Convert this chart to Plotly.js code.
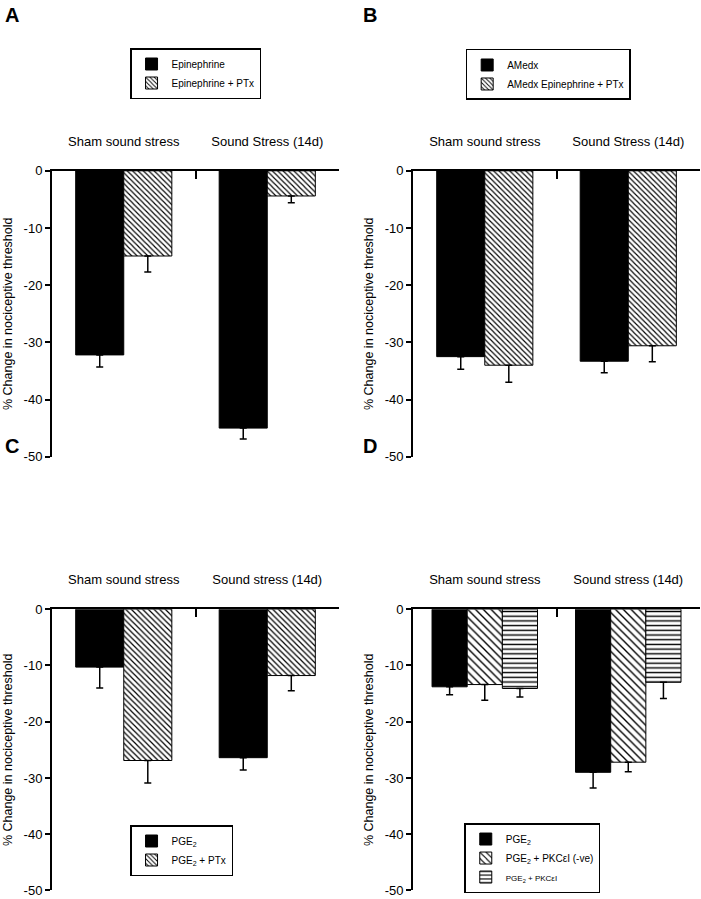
<!DOCTYPE html>
<html>
<head>
<meta charset="utf-8">
<script src="https://cdn.plot.ly/plotly-3.0.1.min.js"></script>
<style>html,body{margin:0;padding:0;background:#fff;}#chart{width:701px;height:899px;}</style>
</head>
<body>
<div id="chart"></div>
<script>
// ---- data ----
var catsA = ["Sham sound stress", "Sound Stress (14d)"];
var catsB = ["Sham sound stress", "Sound Stress (14d)"];
var catsC = ["Sham sound stress", "Sound stress (14d)"];
var catsD = ["Sham sound stress", "Sound stress (14d)"];

var aEpi = [-32.2, -45.0];        var aEpiErr = [2.1, 1.9];
var aEpiPTx = [-14.9, -4.4];      var aEpiPTxErr = [2.8, 1.2];

var bAMedx = [-32.5, -33.3];      var bAMedxErr = [2.2, 2.0];
var bAMedxPTx = [-34.0, -30.6];   var bAMedxPTxErr = [3.0, 2.8];

var cPGE = [-10.3, -26.4];        var cPGEErr = [3.7, 2.2];
var cPGEPTx = [-26.9, -11.8];     var cPGEPTxErr = [4.0, 2.7];

var dPGE = [-13.8, -29.0];        var dPGEErr = [1.4, 2.8];
var dPKCneg = [-13.4, -27.2];     var dPKCnegErr = [2.8, 1.7];
var dPKC = [-14.1, -13.0];        var dPKCErr = [1.5, 2.9];

var yTickVals = [0, -10, -20, -30, -40, -50];
var yTickText = ["0", "-10", "-20", "-30", "-40", "-50"];

// ---- styling helpers ----
var FONT = "Liberation Sans, Arial, Helvetica, sans-serif";
function errs(minus) {
  return {type: "data", symmetric: false, array: minus.map(function(){return 0;}),
          arrayminus: minus, color: "#000", thickness: 1.5, width: 3.5, visible: true};
}
function solid(name, x, y, e, xa, ya, lg, w, off) {
  return {type: "bar", name: name, x: x, y: y, xaxis: xa, yaxis: ya, legend: lg,
          width: w, offset: off,
          marker: {color: "#000", line: {color: "#000", width: 1}},
          error_y: errs(e), hoverinfo: "skip"};
}
function patt(name, x, y, e, xa, ya, lg, w, off, shape, size, sol) {
  return {type: "bar", name: name, x: x, y: y, xaxis: xa, yaxis: ya, legend: lg,
          width: w, offset: off,
          marker: {color: "#fff", line: {color: "#000", width: 1},
                   pattern: {shape: shape, fgcolor: "#000", bgcolor: "#fff", size: size, solidity: sol}},
          error_y: errs(e), hoverinfo: "skip"};
}

var w2 = 0.335, w3 = 0.245;
var traces = [
  solid("Epinephrine", catsA, aEpi, aEpiErr, "x", "y", "legend", w2, -w2),
  patt("Epinephrine + PTx", catsA, aEpiPTx, aEpiPTxErr, "x", "y", "legend", w2, 0, "\\", 3.8, 0.3),

  solid("AMedx", catsB, bAMedx, bAMedxErr, "x2", "y2", "legend2", w2, -w2),
  patt("AMedx Epinephrine + PTx", catsB, bAMedxPTx, bAMedxPTxErr, "x2", "y2", "legend2", w2, 0, "\\", 3.8, 0.3),

  solid("PGE<sub>2</sub>", catsC, cPGE, cPGEErr, "x3", "y3", "legend3", w2, -w2),
  patt("PGE<sub>2</sub> + PTx", catsC, cPGEPTx, cPGEPTxErr, "x3", "y3", "legend3", w2, 0, "\\", 4, 0.3),

  solid("PGE<sub>2</sub>", catsD, dPGE, dPGEErr, "x4", "y4", "legend4", w3, -1.5 * w3),
  patt("PGE<sub>2</sub> + PKCεI (-ve)", catsD, dPKCneg, dPKCnegErr, "x4", "y4", "legend4", w3, -0.5 * w3, "\\", 5.5, 0.25),
  patt('<span style="font-size:8px">PGE<sub>2</sub> + PKCεI</span>', catsD, dPKC, dPKCErr, "x4", "y4", "legend4", w3, 0.5 * w3, "-", 4.7, 0.3)
];

function xax(dom, anchor) {
  return {domain: dom, anchor: anchor, side: "top", type: "category",
          showline: true, linecolor: "#000", linewidth: 2, ticks: "inside", ticklen: 8,
          tickwidth: 2, tickcolor: "#000", tickson: "boundaries", showgrid: false, zeroline: false,
          ticklabelstandoff: 18, tickfont: {family: FONT, size: 13, color: "#000"}, fixedrange: true};
}
function yax(dom, anchor) {
  return {domain: dom, anchor: anchor, range: [-50, 0], showline: true, linecolor: "#000", linewidth: 2,
          ticks: "outside", ticklen: 5, tickwidth: 2, tickcolor: "#000", showgrid: false, zeroline: false,
          tickvals: yTickVals, ticktext: yTickText, tickfont: {family: FONT, size: 13, color: "#000"},
          ticklabeloverflow: "allow",
          title: {text: "% Change in nociceptive threshold", font: {family: FONT, size: 12.5, color: "#000"}, standoff: 8},
          fixedrange: true};
}
function leg(x, y) {
  return {x: x, y: y, xanchor: "left", yanchor: "top", xref: "paper", yref: "paper",
          bordercolor: "#000", borderwidth: 1.5, bgcolor: "#fff",
          font: {family: FONT, size: 10, color: "#000"}, traceorder: "normal"};
}

var xdL = [0.0742, 0.4836], xdR = [0.5892, 0.9986];
var ydT = [0.4920, 0.8100], ydB = [0.0095, 0.3224];

var layout = {
  width: 701, height: 899,
  margin: {l: 0, r: 0, t: 0, b: 0},
  paper_bgcolor: "#fff", plot_bgcolor: "rgba(0,0,0,0)",
  barmode: "overlay",
  showlegend: true,
  font: {family: FONT, color: "#000"},
  xaxis: xax(xdL, "y"), yaxis: yax(ydT, "x"),
  xaxis2: xax(xdR, "y2"), yaxis2: yax(ydT, "x2"),
  xaxis3: xax(xdL, "y3"), yaxis3: yax(ydB, "x3"),
  xaxis4: xax(xdR, "y4"), yaxis4: yax(ydB, "x4"),
  legend: leg(0.1855, 0.9466),
  legend2: leg(0.6643, 0.9455),
  legend3: leg(0.1855, 0.0823),
  legend4: leg(0.6623, 0.0845),
  annotations: [
    {text: "<b>A</b>", x: 3 / 701, y: 1 - 2 / 899, xref: "paper", yref: "paper", xanchor: "left", yanchor: "top", showarrow: false, font: {family: FONT, size: 20, color: "#000"}},
    {text: "<b>B</b>", x: 361 / 701, y: 1 - 2 / 899, xref: "paper", yref: "paper", xanchor: "left", yanchor: "top", showarrow: false, font: {family: FONT, size: 20, color: "#000"}},
    {text: "<b>C</b>", x: 3 / 701, y: 1 - 433 / 899, xref: "paper", yref: "paper", xanchor: "left", yanchor: "top", showarrow: false, font: {family: FONT, size: 20, color: "#000"}},
    {text: "<b>D</b>", x: 361 / 701, y: 1 - 433 / 899, xref: "paper", yref: "paper", xanchor: "left", yanchor: "top", showarrow: false, font: {family: FONT, size: 20, color: "#000"}}
  ]
};

Plotly.newPlot("chart", traces, layout, {displayModeBar: false, staticPlot: true});
</script>
</body>
</html>
